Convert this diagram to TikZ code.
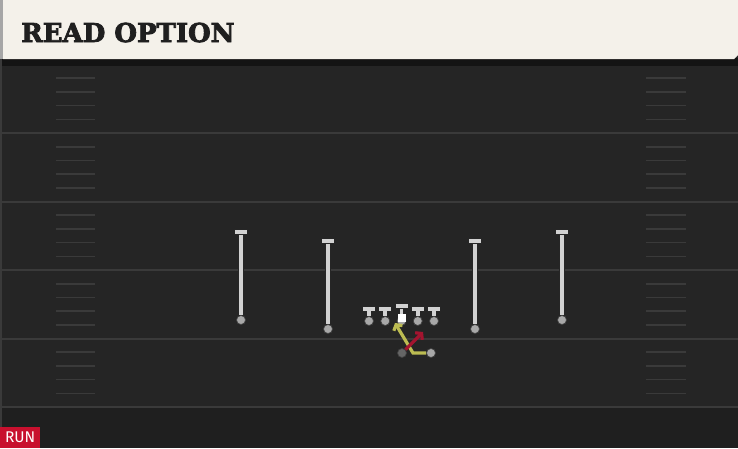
\documentclass[tikz,border=0pt]{standalone}
\usepackage{fontspec}
\usepackage{tikz}
\usetikzlibrary{arrows.meta}
\newfontfamily\playfont[FakeBold=3]{DejaVu Serif}
\newfontfamily\tagfont{Fira Sans}
\definecolor{fieldbg}{HTML}{252525}
\definecolor{fieldline}{HTML}{3A3A3A}
\definecolor{hashline}{HTML}{3A3A3A}
\definecolor{headbg}{HTML}{F4F1EA}
\definecolor{barfill}{HTML}{D2D2D2}
\definecolor{ballfill}{HTML}{A8A8A8}
\definecolor{readpath}{HTML}{BCBC52}
\definecolor{keeppath}{HTML}{A3142F}
\definecolor{runtag}{HTML}{C8102E}

\begin{document}
\begin{tikzpicture}[x=1pt,y=-1pt,node distance=16.25pt,
    bar/.style={rectangle,fill=barfill,draw=black!85,line width=0.8pt,
      minimum width=13pt,minimum height=5pt,inner sep=0pt},
    ball/.style={circle,fill=ballfill,draw=black!75,line width=0.7pt,
      minimum size=9pt,inner sep=0pt},
    stem/.style={draw=black!85,line width=0.9pt,double=barfill,double distance=3.6pt},
    route/.style={line width=3.2pt,-{Straight Barb[length=4pt,width=10pt]}}]
    \useasboundingbox (0,0) rectangle (738,448);

    % field
    \fill[fieldbg] (0,0) rectangle (738,448);
    \fill[black!88] (0,407) rectangle (738,448);
    \fill[black!92] (0,58) rectangle (738,66);
    \fill[fieldline] (0,0) rectangle (2,448);
    \foreach \y in {133,201.5,270,338.5,407}
      \draw[fieldline,line width=2pt] (2,\y) -- (738,\y);
    \foreach \b in {64.5,133,201.5,270,338.5}
      \foreach \j in {1,2,3,4} {
        \draw[hashline,line width=1.6pt] (56,\b+13.7*\j) -- (95,\b+13.7*\j);
        \draw[hashline,line width=1.6pt] (646,\b+13.7*\j) -- (686,\b+13.7*\j);
      }

    % header
    \fill[black!35] (0,0) rectangle (3,59);
    \fill[headbg] (3,0) -- (738,0) -- (738,55) -- (734,59) -- (3,59) -- cycle;
    \node[anchor=base west,inner sep=0pt,text=black!88] (title) at (21,42)
      {\playfont\bfseries\fontsize{26}{30}\selectfont READ OPTION};

    % receivers
    \node[ball] (1) at (241,320) {};
    \node[bar] (11) at (241,232) {};
    \node[ball] (2) at (328,329) {};
    \node[bar] (12) at (328,241) {};
    \node[ball] (8) at (475,329) {};
    \node[bar] (18) at (475,241) {};
    \node[ball] (9) at (562,320) {};
    \node[bar] (19) at (562,232) {};

    % line
    \node[ball] (3) at (369,321) {};
    \node[ball] (4) [right of=3] {};
    \node[ball] (5) [right of=4] {};
    \node[ball] (6) [right of=5] {};
    \node[ball] (7) [right of=6] {};
    \node[bar] (13) at (369,308.5) {};
    \node[bar] (14) at (385.25,308.5) {};
    \node[bar] (15) at (401.5,306) {};
    \node[bar] (16) at (417.75,308.5) {};
    \node[bar] (17) at (434,308.5) {};

    \path[every edge/.style={stem}]
    (11) edge (1)
    (12) edge (2)
    (13) edge (3)
    (14) edge (4)
    (15) edge (5)
    (16) edge (6)
    (17) edge (7)
    (18) edge (8)
    (19) edge (9);

    \node[fill=white,minimum size=8pt,inner sep=0pt] (snap) at (402,318) {};

    % backfield
    \node[ball,fill=black!40!ballfill] (qb) at (402,353) {};
    \node[ball] (rb) at (431,353) {};
    \coordinate (mesh) at (413,353);
    \coordinate (give) at (395,323);
    \coordinate (keep) at (423,332);
    \draw[route,readpath] (rb) -- (mesh) -- (give);
    \draw[route,keeppath] (qb) -- (keep);

    % tag
    \node[fill=runtag,anchor=south west,minimum width=40pt,minimum height=21pt,
      inner sep=0pt,text=white] (tag) at (0,448)
      {\tagfont\fontsize{15.5}{16}\selectfont RUN};
  \end{tikzpicture}
\end{document}
